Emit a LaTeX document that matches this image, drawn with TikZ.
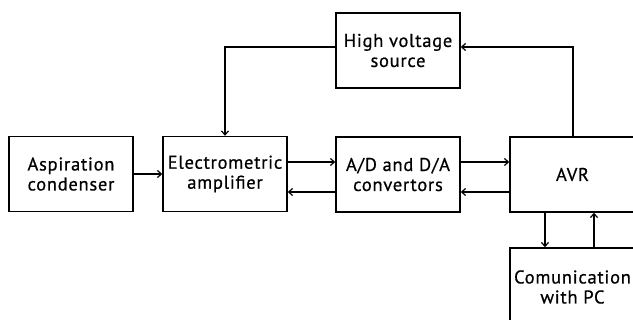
\documentclass[tikz,border=0pt]{standalone}
\usepackage{fontspec}
\setmainfont[LetterSpace=4,FakeBold=0.6]{PT Sans}
\usetikzlibrary{arrows.meta}
\begin{document}
\begin{tikzpicture}[x=1pt,y=-1pt,
  blockbox/.style={draw, line width=1.4pt, align=center, inner sep=0pt,
    minimum width=124pt, minimum height=75pt,
    font=\fontsize{18.5pt}{20pt}\selectfont},
  conn/.style={line width=1.4pt, -{Straight Barb[length=4pt,width=7pt,line width=1.2pt]}}]
\useasboundingbox (0,0) rectangle (633,320);
\clip (0,0) rectangle (633,320);
\fill[white] (0,0) rectangle (633,320);
\node[blockbox] (asp) at (71,174) {Aspiration\\condenser};
\node[blockbox] (elec) at (225,174) {Electrometric\\amplifier};
\node[blockbox] (ad) at (398,174.5) {A/D and D/A\\convertors};
\node[blockbox] (hv) at (398,50.5) {High voltage\\source};
\node[blockbox, minimum width=125pt] (avr) at (572.5,174.5) {AVR};
\node[blockbox, minimum width=125pt, minimum height=78pt] (comm) at (572.5,287) {Comunication\\with PC};
\draw[conn] (asp.east) -- (elec.west);
\draw[conn] ([yshift=12pt]elec.east) -- ([yshift=12pt]elec.east -| ad.west);
\draw[conn] ([yshift=-18pt]elec.east -| ad.west) -- ([yshift=-18pt]elec.east);
\draw[conn] ([yshift=12pt]elec.east -| ad.east) -- ([yshift=12pt]elec.east -| avr.west);
\draw[conn] ([yshift=-18pt]elec.east -| avr.west) -- ([yshift=-18pt]elec.east -| ad.east);
\draw[conn] ([yshift=3.5pt]hv.west) -| (elec.north);
\draw[conn] ([xshift=0.5pt]avr.north) |- ([yshift=3.5pt]hv.east);
\draw[conn] ([xshift=-27.5pt]avr.south) -- ([xshift=-27.5pt]comm.north);
\draw[conn] ([xshift=21.5pt]comm.north) -- ([xshift=21.5pt]avr.south);
\end{tikzpicture}
\end{document}
